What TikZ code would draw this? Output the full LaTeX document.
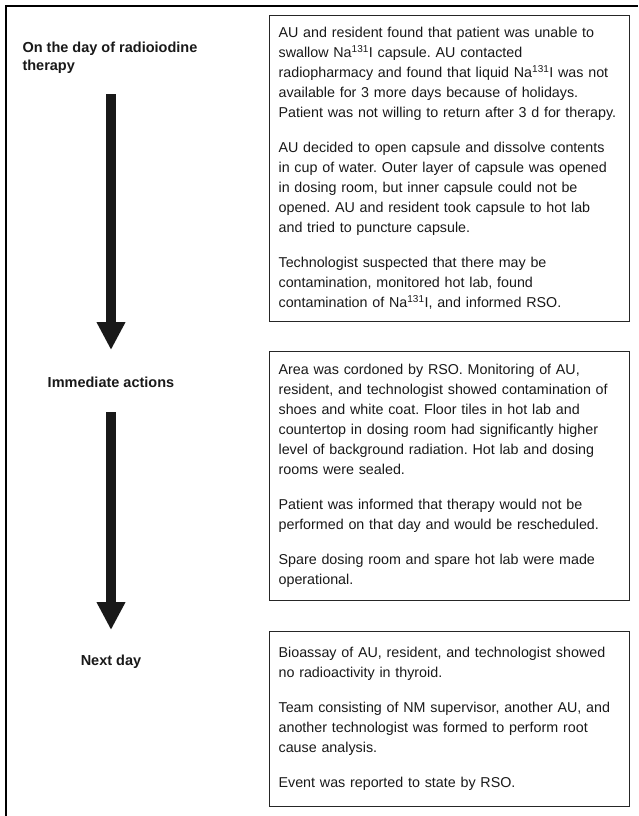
\documentclass[tikz,border=0pt]{standalone}
\usepackage{fontspec}
\setmainfont{Liberation Sans}
\usetikzlibrary{shapes.geometric, arrows.meta}
\frenchspacing
\hfuzz=20pt

\begin{document}
\begin{tikzpicture}[
			x=1pt, y=-1pt,
			box/.style={
				rectangle,
				draw=black!85,
				line width=1.2pt,
				anchor=north west,
				minimum width=360pt,
				text width=342pt,
				inner xsep=9pt,
				align=left,
				text=black!90,
				font=\fontsize{14.3}{20}\selectfont
			},
			phase/.style={
				font=\bfseries\fontsize{14.5}{18}\selectfont,
				text=black!90,
				align=left
			},
			arrow/.style={
				draw=black!90,
				line width=10pt,
				-{Triangle[width=27pt,length=28pt]}
			}
			]
			
			\useasboundingbox (0,0) rectangle (638,816);
			\draw [line width=1.8pt, black] (6,816) -- (6,6) -- (638,6);
			
			\node (day) [phase, anchor=west] at (19,58) {On the day of radioiodine\\therapy};
			\node (imm) [phase] at (111,382) {Immediate actions};
			\node (next) [phase] at (111,662) {Next day};
			
			\node (box1) [box, minimum height=306pt] at (269,15) {AU and resident found that patient was unable to\\
				swallow Na\textsuperscript{131}I capsule. AU contacted\\
				radiopharmacy and found that liquid Na\textsuperscript{131}I was not\\
				available for 3 more days because of holidays.\\
				Patient was not willing to return after 3 d for therapy.\\[15pt]
				AU decided to open capsule and dissolve contents\\
				in cup of water. Outer layer of capsule was opened\\
				in dosing room, but inner capsule could not be\\
				opened. AU and resident took capsule to hot lab\\
				and tried to puncture capsule.\\[15pt]
				Technologist suspected that there may be\\
				contamination, monitored hot lab, found\\
				contamination of Na\textsuperscript{131}I, and informed RSO.};
			
			\node (box2) [box, minimum height=249pt] at (269,351) {Area was cordoned by RSO. Monitoring of AU,\\
				resident, and technologist showed contamination of\\
				shoes and white coat. Floor tiles in hot lab and\\
				countertop in dosing room had significantly higher\\
				level of background radiation. Hot lab and dosing\\
				rooms were sealed.\\[15pt]
				Patient was informed that therapy would not be\\
				performed on that day and would be rescheduled.\\[15pt]
				Spare dosing room and spare hot lab were made\\
				operational.};
			
			\node (box3) [box, minimum height=175pt] at (269,631) {Bioassay of AU, resident, and technologist showed\\
				no radioactivity in thyroid.\\[15pt]
				Team consisting of NM supervisor, another AU, and\\
				another technologist was formed to perform root\\
				cause analysis.\\[15pt]
				Event was reported to state by RSO.};
			
			\coordinate (a1s) at (111,94);
			\coordinate (a1e) at (111,350);
			\coordinate (a2s) at (111,412);
			\coordinate (a2e) at (111,630);
			
			\draw [arrow] (a1s) -- (a1e);
			\draw [arrow] (a2s) -- (a2e);
			
		\end{tikzpicture}
\end{document}
